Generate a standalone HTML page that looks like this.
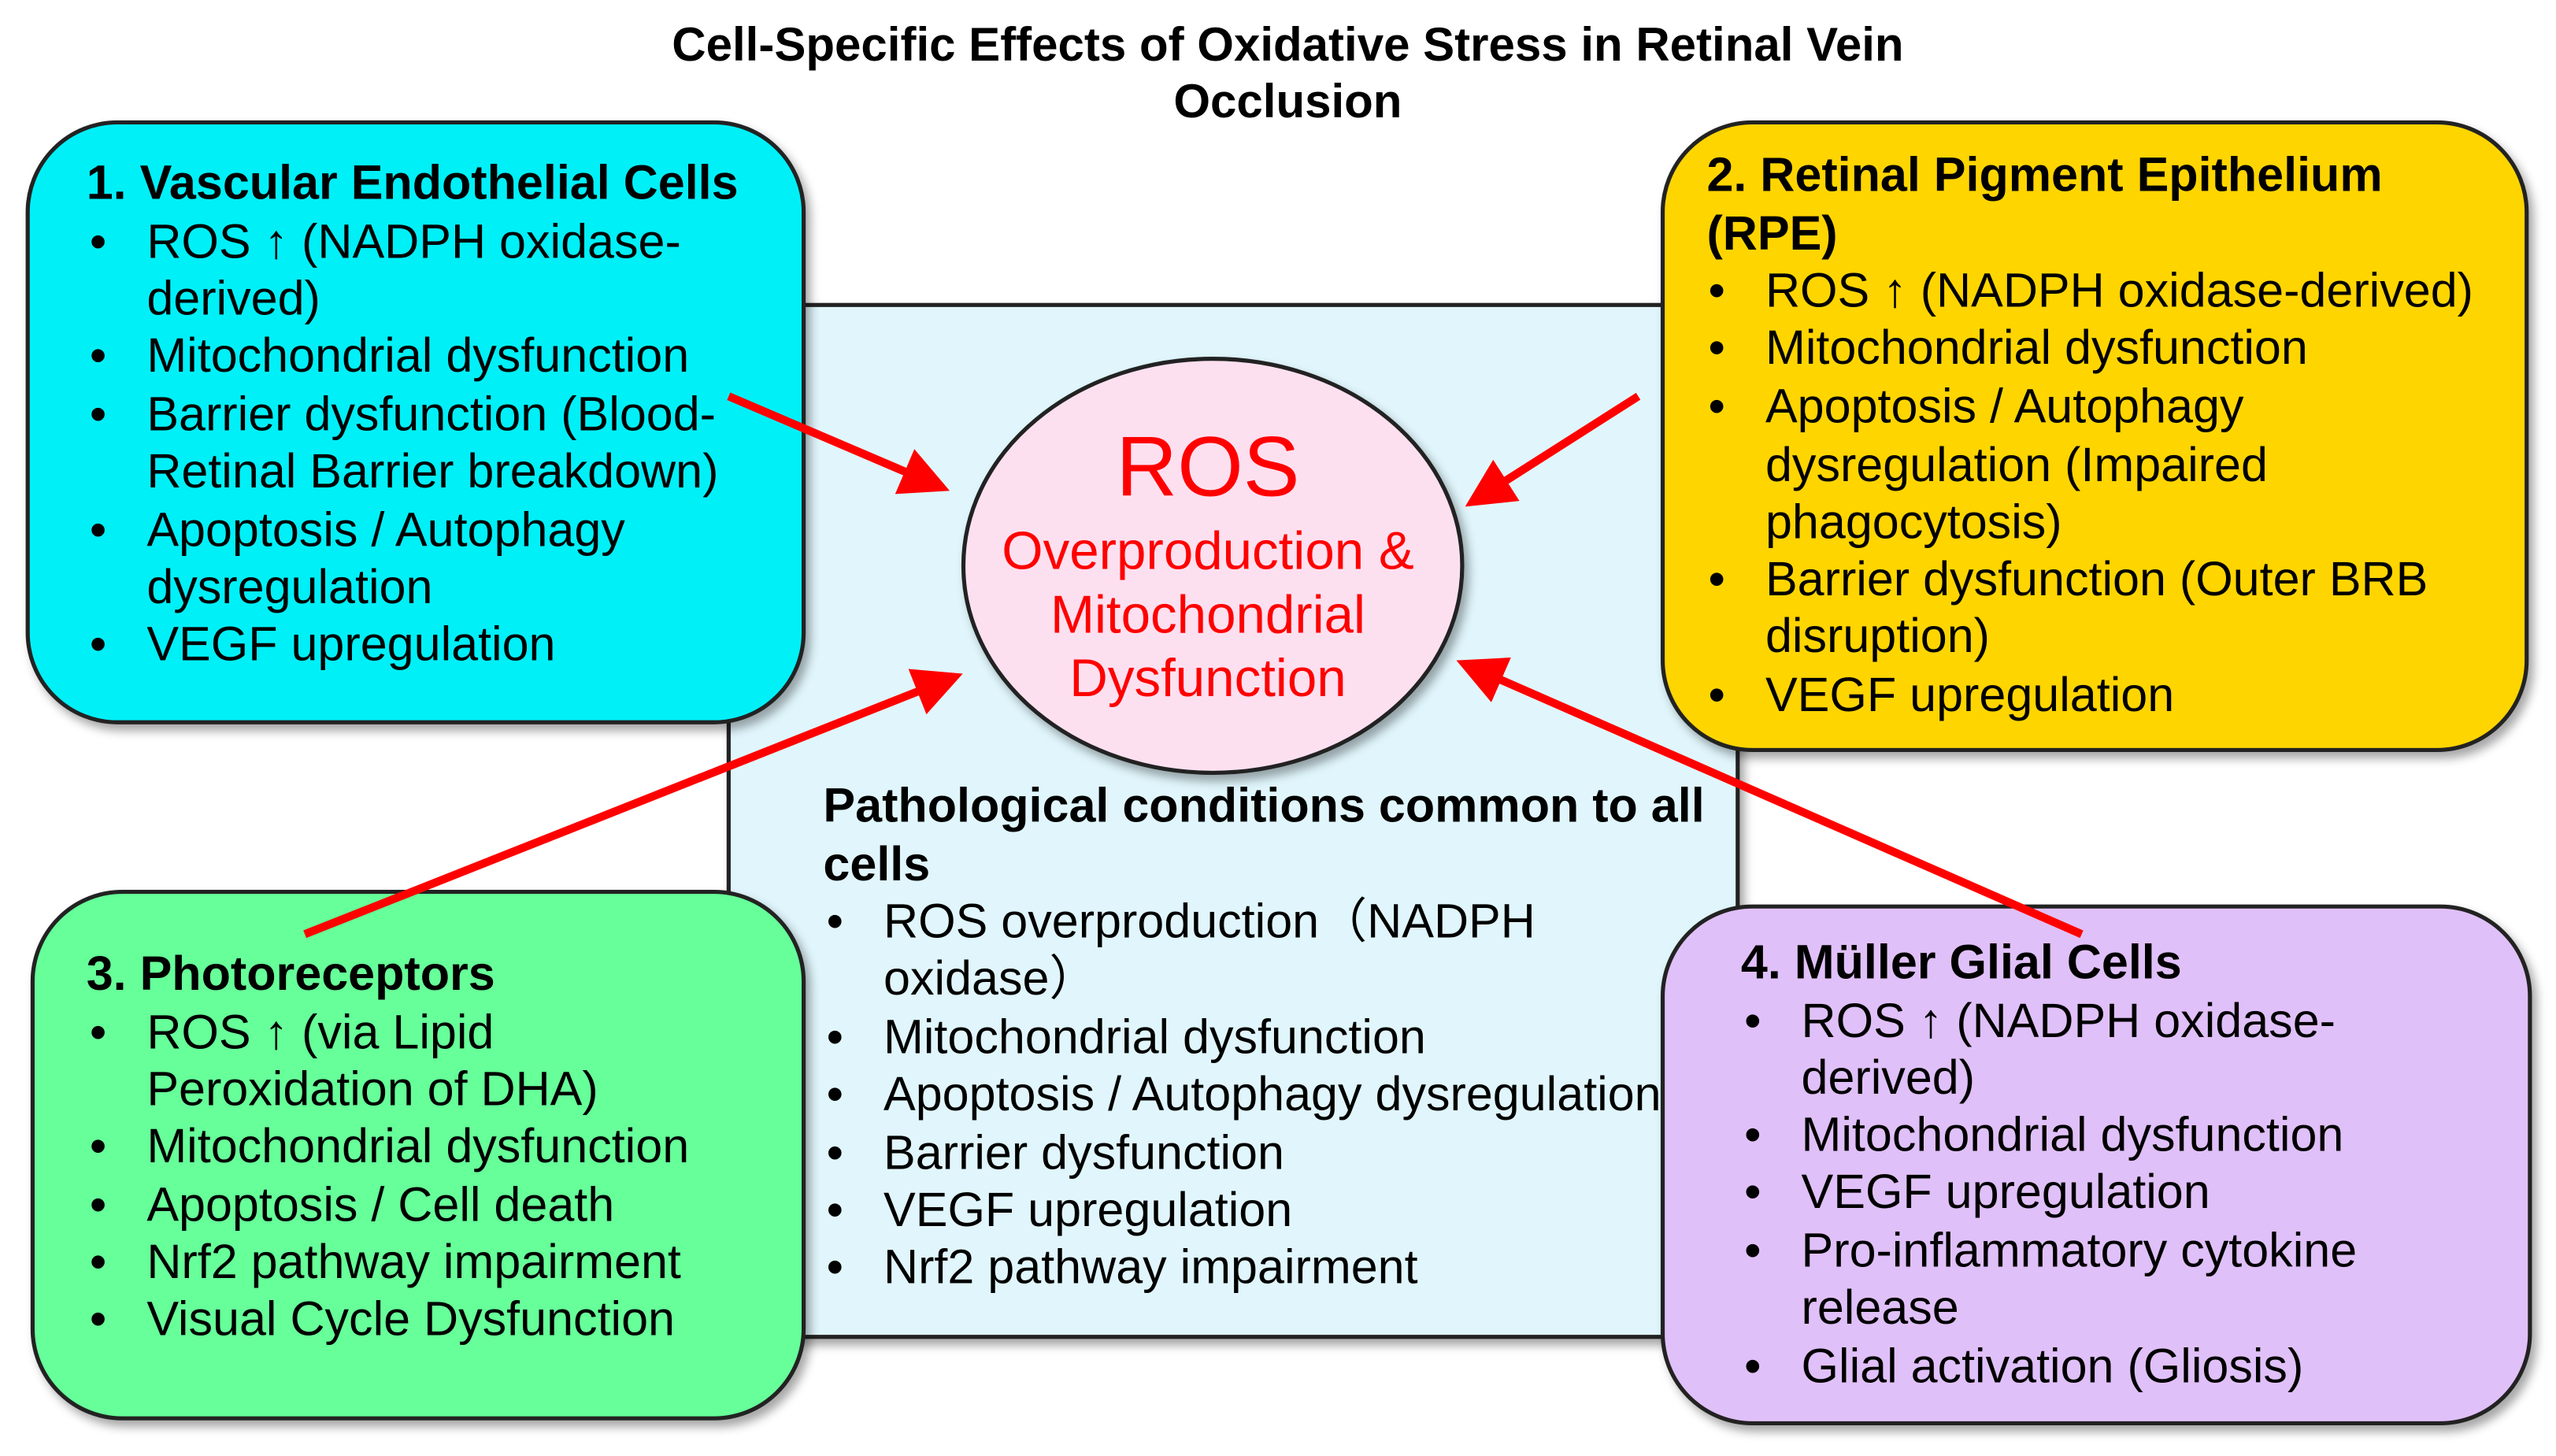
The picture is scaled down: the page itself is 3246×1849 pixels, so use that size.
<!DOCTYPE html>
<html><head><meta charset="utf-8"><style>
html,body{margin:0;padding:0;background:#fff;}
svg{display:block}
text{font-family:"Liberation Sans",Arial,sans-serif;}
.h{font-weight:bold;font-size:29.5px;fill:#000}
.t{font-size:29.5px;fill:#000}
.r{fill:#ff0000;text-anchor:middle}
</style></head><body>
<svg width="3246" height="1849" viewBox="0 0 1568 893" xmlns="http://www.w3.org/2000/svg">
<defs>
<filter id="sh" x="-5%" y="-5%" width="115%" height="115%"><feDropShadow dx="3" dy="4" stdDeviation="3" flood-color="#000" flood-opacity="0.35"/></filter>
<marker id="ah" markerWidth="6" markerHeight="6" refX="5" refY="3" orient="auto" markerUnits="strokeWidth"><path d="M0,0 L6,3 L0,6 Z" fill="#ff0000"/></marker>
</defs>
<text x="790" y="37" text-anchor="middle" style="font-weight:bold;font-size:29px">Cell-Specific Effects of Oxidative Stress in Retinal Vein</text>
<text x="790" y="72" text-anchor="middle" style="font-weight:bold;font-size:29px">Occlusion</text>

<rect x="447" y="187" width="619" height="633" fill="#e0f6fc" stroke="#222" stroke-width="2.5" filter="url(#sh)"/>

<rect x="17" y="75" width="476" height="368" rx="55" fill="#00f0f8" stroke="#222" stroke-width="2.5" filter="url(#sh)"/>
<rect x="1020" y="75" width="530" height="385" rx="55" fill="#ffd500" stroke="#222" stroke-width="2.5" filter="url(#sh)"/>
<rect x="20" y="547" width="473" height="323" rx="55" fill="#66ff99" stroke="#222" stroke-width="2.5" filter="url(#sh)"/>
<rect x="1020" y="556" width="532" height="317" rx="55" fill="#e0c0f8" stroke="#222" stroke-width="2.5" filter="url(#sh)"/>

<ellipse cx="744" cy="347" rx="153" ry="127" fill="#fde0f0" stroke="#222" stroke-width="2.5" filter="url(#sh)"/>
<text x="741" y="304" class="r" style="font-size:52px">ROS</text>
<text x="741" y="349" class="r" style="font-size:32.5px">Overproduction &amp;</text>
<text x="741" y="388" class="r" style="font-size:32.5px">Mitochondrial</text>
<text x="741" y="427" class="r" style="font-size:32.5px">Dysfunction</text>

<g class="t">
<text x="53" y="122" class="h">1. Vascular Endothelial Cells</text>
<text x="55" y="158">•</text><text x="90" y="158">ROS ↑ (NADPH oxidase-</text>
<text x="90" y="193">derived)</text>
<text x="55" y="228">•</text><text x="90" y="228">Mitochondrial dysfunction</text>
<text x="55" y="264">•</text><text x="90" y="264">Barrier dysfunction (Blood-</text>
<text x="90" y="299">Retinal Barrier breakdown)</text>
<text x="55" y="335">•</text><text x="90" y="335">Apoptosis / Autophagy</text>
<text x="90" y="370">dysregulation</text>
<text x="55" y="405">•</text><text x="90" y="405">VEGF upregulation</text>

<text x="1047" y="117" class="h">2. Retinal Pigment Epithelium</text>
<text x="1047" y="153" class="h">(RPE)</text>
<text x="1048" y="188">•</text><text x="1083" y="188">ROS ↑ (NADPH oxidase-derived)</text>
<text x="1048" y="223">•</text><text x="1083" y="223">Mitochondrial dysfunction</text>
<text x="1048" y="259">•</text><text x="1083" y="259">Apoptosis / Autophagy</text>
<text x="1083" y="295">dysregulation (Impaired</text>
<text x="1083" y="330">phagocytosis)</text>
<text x="1048" y="365">•</text><text x="1083" y="365">Barrier dysfunction (Outer BRB</text>
<text x="1083" y="400">disruption)</text>
<text x="1048" y="436">•</text><text x="1083" y="436">VEGF upregulation</text>

<text x="53" y="607" class="h">3. Photoreceptors</text>
<text x="55" y="643">•</text><text x="90" y="643">ROS ↑ (via Lipid</text>
<text x="90" y="678">Peroxidation of DHA)</text>
<text x="55" y="713">•</text><text x="90" y="713">Mitochondrial dysfunction</text>
<text x="55" y="749">•</text><text x="90" y="749">Apoptosis / Cell death</text>
<text x="55" y="784">•</text><text x="90" y="784">Nrf2 pathway impairment</text>
<text x="55" y="819">•</text><text x="90" y="819">Visual Cycle Dysfunction</text>

<text x="1068" y="600" class="h">4. Müller Glial Cells</text>
<text x="1070" y="636">•</text><text x="1105" y="636">ROS ↑ (NADPH oxidase-</text>
<text x="1105" y="671">derived)</text>
<text x="1070" y="706">•</text><text x="1105" y="706">Mitochondrial dysfunction</text>
<text x="1070" y="741">•</text><text x="1105" y="741">VEGF upregulation</text>
<text x="1070" y="777">•</text><text x="1105" y="777">Pro-inflammatory cytokine</text>
<text x="1105" y="812">release</text>
<text x="1070" y="848">•</text><text x="1105" y="848">Glial activation (Gliosis)</text>

<text x="505" y="504" class="h">Pathological conditions common to all</text>
<text x="505" y="540" class="h">cells</text>
<text x="507" y="575">•</text><text x="542" y="575">ROS overproduction（NADPH</text>
<text x="542" y="610">oxidase）</text>
<text x="507" y="646">•</text><text x="542" y="646">Mitochondrial dysfunction</text>
<text x="507" y="681">•</text><text x="542" y="681">Apoptosis / Autophagy dysregulation</text>
<text x="507" y="717">•</text><text x="542" y="717">Barrier dysfunction</text>
<text x="507" y="752">•</text><text x="542" y="752">VEGF upregulation</text>
<text x="507" y="787">•</text><text x="542" y="787">Nrf2 pathway impairment</text>
</g>

<g stroke="#ff0000" stroke-width="5" fill="none" marker-end="url(#ah)">
<line x1="447" y1="243" x2="578" y2="299"/>
<line x1="1005" y1="243" x2="903" y2="308"/>
<line x1="187" y1="573" x2="586" y2="415"/>
<line x1="1277" y1="573" x2="898" y2="407"/>
</g>
</svg>
</body></html>
